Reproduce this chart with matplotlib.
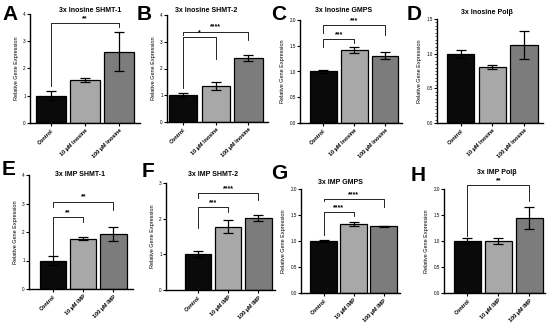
import matplotlib
matplotlib.use("Agg")
from matplotlib import pyplot as plt
from matplotlib.ticker import MultipleLocator

plt.rcParams['font.family'] = ['Liberation Sans', 'DejaVu Sans']

# ---- data ----
panel_letters = ['A', 'B', 'C', 'D', 'E', 'F', 'G', 'H']
titles = ['3x Inosine SHMT-1', '3x Inosine SHMT-2', '3x Inosine GMPS', '3x Inosine Pol\u03b2',
          '3x IMP SHMT-1', '3x IMP SHMT-2', '3x IMP GMPS', '3x IMP Pol\u03b2']
inosine_labels = ['Control', '10 \u00b5M Inosine', '100 \u00b5M Inosine']
imp_labels = ['Control', '10 \u00b5M IMP', '100 \u00b5M IMP']

means = [
    [1.00, 1.57, 2.62],
    [1.00, 1.33, 2.40],
    [1.00, 1.41, 1.31],
    [1.00, 0.81, 1.13],
    [1.00, 1.77, 1.93],
    [1.00, 1.78, 2.02],
    [1.00, 1.33, 1.28],
    [1.00, 1.00, 1.45],
]
errors = [
    [0.17, 0.08, 0.71],
    [0.08, 0.15, 0.11],
    [0.025, 0.06, 0.07],
    [0.06, 0.03, 0.20],
    [0.16, 0.05, 0.26],
    [0.08, 0.17, 0.09],
    [0.025, 0.045, 0.015],
    [0.06, 0.06, 0.21],
]
y_max = [4, 4, 2.0, 1.5, 4, 3, 2.0, 2.0]
y_step = [1, 1, 0.5, 0.5, 1, 1, 0.5, 0.5]

# significance: (label, right bar index, bracket height, left leg end, right leg end)
sig_marks = [
    [('**', 2, 3.67, 1.35, 3.52)],
    [('*', 1, 3.17, 1.26, 2.34), ('****', 2, 3.38, 3.25, 3.07)],
    [('***', 1, 1.625, 1.48, 1.55), ('***', 2, 1.90, 1.75, 1.71)],
    [],
    [('**', 1, 2.51, 1.20, 2.36), ('**', 2, 3.06, 2.89, 2.77)],
    [('***', 1, 2.32, 1.75, 2.20), ('****', 2, 2.71, 2.57, 2.52)],
    [('****', 1, 1.56, 1.12, 1.48), ('****', 2, 1.80, 1.76, 1.66)],
    [('**', 2, 2.08, 1.10, 1.76)],
]

bar_colors = ['#0a0a0a', '#a8a8a8', '#7c7c7c']

# ---- layout (pixels in a 550x325 figure) ----
W, H = 550, 325
# (left, right, top, bottom) pixel positions of the data area
boxes = [
    (30, 140, 14, 123), (167, 268, 15, 122), (300, 402, 20, 123), (437, 543, 19, 123),
    (29, 133, 175, 289), (166, 275, 183, 290), (301, 400, 189, 293), (444, 545, 189, 293),
]
xlims = [(-0.6, 2.6), (-0.5, 2.6), (-0.75, 2.55), (-0.75, 2.6),
         (-0.8, 2.65), (-1.05, 2.55), (-0.75, 2.55), (-0.75, 2.5)]
letter_pos = [(2, 20), (137, 20), (271, 20), (407, 20),
              (2, 175), (142, 177), (271, 179), (411, 181)]
title_pos = [(90, 10), (206, 10), (344, 10), (487, 12),
             (80, 175), (213, 175), (340, 182), (497, 172)]

fig = plt.figure(figsize=(W / 100, H / 100), dpi=100)
fig.patch.set_facecolor('white')

for i in range(8):
    l, r, t, b = boxes[i]
    ax = fig.add_axes([l / W, 1 - b / H, (r - l) / W, (b - t) / H])
    xs = [0, 1, 2]
    ax.bar(xs, means[i], width=0.87, color=bar_colors, edgecolor='black', linewidth=0.9, zorder=2)
    ax.errorbar(xs, means[i], yerr=errors[i], fmt='none', ecolor='black',
                elinewidth=0.9, capsize=3.5, capthick=0.9, zorder=3)
    ax.set_xlim(*xlims[i])
    ax.set_ylim(0, y_max[i])
    ax.yaxis.set_major_locator(MultipleLocator(y_step[i]))
    if i == 3:
        ax.yaxis.set_minor_locator(MultipleLocator(0.05))
        ax.tick_params(axis='y', which='minor', length=1.2, width=0.5)
    fmt = '%.1f' if y_step[i] < 1 else '%d'
    ax.set_yticklabels([fmt % v for v in ax.get_yticks()])
    ax.set_xticks(xs)
    ax.set_xticklabels(inosine_labels if i < 4 else imp_labels, rotation=45,
                       ha='right', rotation_mode='anchor', fontsize=4, fontweight='bold')
    ax.tick_params(axis='y', labelsize=3.3, length=2, width=0.8, pad=1)
    ax.tick_params(axis='x', length=2, width=0.8, pad=1.5)
    for s in ['top', 'right']:
        ax.spines[s].set_visible(False)
    for s in ['left', 'bottom']:
        ax.spines[s].set_linewidth(1.0)
    ax.set_ylabel('Relative Gene Expression', fontsize=4, labelpad=3)

    for label, j, h, ll, rl in sig_marks[i]:
        ax.plot([0, 0, j, j], [ll, h, h, rl], color='black', lw=0.6, clip_on=False)
        ax.text(j / 2, h + 0.01 * y_max[i], label, ha='center', va='bottom',
                fontsize=5, fontweight='bold')

    fig.text(letter_pos[i][0] / W, 1 - letter_pos[i][1] / H, panel_letters[i],
             fontsize=15, fontweight='bold', ha='left', va='baseline')
    fig.text(title_pos[i][0] / W, 1 - title_pos[i][1] / H, titles[i],
             fontsize=5, fontweight='bold', ha='center', va='center')

fig.savefig('out.png', dpi=100)
